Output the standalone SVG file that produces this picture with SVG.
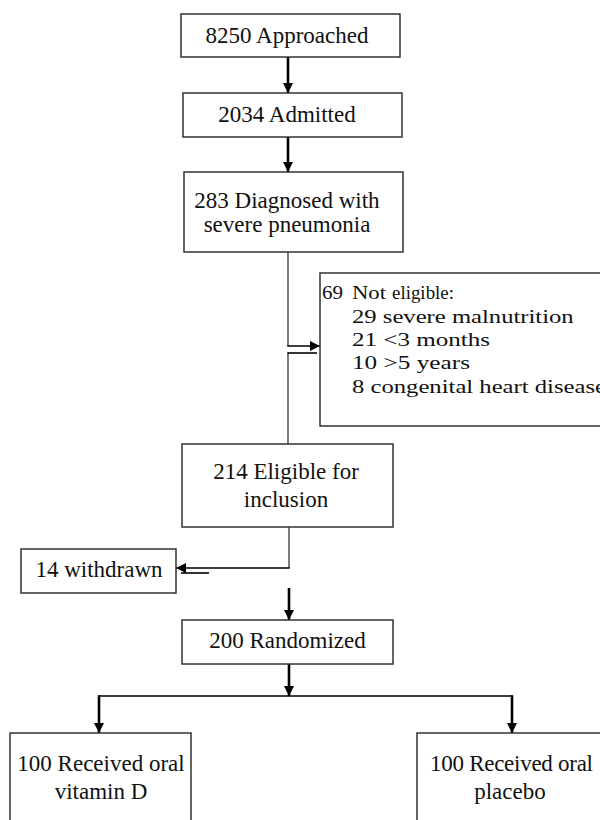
<svg xmlns="http://www.w3.org/2000/svg" width="600" height="820" viewBox="0 0 600 820">
<style>
.box{fill:#fff;stroke:#333;stroke-width:1.5}
.t{font-family:"Liberation Serif","Times New Roman",serif;font-size:23px;fill:#111;text-anchor:middle}
.s{font-family:"Liberation Serif","Times New Roman",serif;font-size:18px;fill:#111}
.thin{stroke:#444;stroke-width:1.4;fill:none}
.thk{stroke:#000;stroke-width:2.6;fill:none}
.h{stroke:#000;stroke-width:1.6;fill:none}
</style>
<defs>
<marker id="ah" markerUnits="userSpaceOnUse" markerWidth="11" markerHeight="11" refX="10" refY="5" orient="auto">
<path d="M0,0 L10,5 L0,10 z" fill="#000"/>
</marker>
</defs>
<g id="connectors">
<line class="thk" x1="288" y1="57" x2="288" y2="93" marker-end="url(#ah)"/>
<line class="thk" x1="288" y1="137" x2="288" y2="172" marker-end="url(#ah)"/>
<line class="thin" x1="288" y1="252" x2="288" y2="346"/>
<line class="thin" x1="288" y1="353" x2="288" y2="444"/>
<line class="h" x1="287.3" y1="346" x2="320" y2="346" marker-end="url(#ah)"/>
<line class="h" x1="287.3" y1="353" x2="317" y2="353"/>
<line class="thin" x1="289" y1="527" x2="289" y2="568"/>
<line class="h" x1="289.7" y1="568" x2="176" y2="568" marker-end="url(#ah)"/>
<line class="h" x1="181" y1="573" x2="209" y2="573"/>
<line class="thk" x1="289" y1="588" x2="289" y2="620" marker-end="url(#ah)"/>
<line class="thk" x1="289" y1="664" x2="289" y2="696" marker-end="url(#ah)"/>
<line class="h" x1="99" y1="696" x2="512" y2="696"/>
<line class="thk" x1="99" y1="695.2" x2="99" y2="733" marker-end="url(#ah)"/>
<line class="thk" x1="512" y1="695.2" x2="512" y2="733" marker-end="url(#ah)"/>
</g>
<g id="approached">
<rect class="box" x="181" y="14" width="219" height="43"/>
<text class="t" x="287" y="43">8250 Approached</text>
</g>
<g id="admitted">
<rect class="box" x="183" y="93" width="219" height="44"/>
<text class="t" x="287" y="122">2034 Admitted</text>
</g>
<g id="diagnosed">
<rect class="box" x="184" y="172" width="219" height="80"/>
<text class="t" x="287" y="208">283 Diagnosed with</text>
<text class="t" x="287" y="232">severe pneumonia</text>
</g>
<g id="not-eligible">
<rect class="box" x="320" y="273" width="300" height="153"/>
<text class="s" x="322" y="299" textLength="21" lengthAdjust="spacingAndGlyphs">69</text>
<text class="s" x="352" y="299" textLength="34" lengthAdjust="spacingAndGlyphs">Not</text>
<text class="s" x="392" y="299" textLength="62" lengthAdjust="spacingAndGlyphs">eligible:</text>
<text class="s" x="352" y="323" textLength="221.7" lengthAdjust="spacingAndGlyphs">29 severe malnutrition</text>
<text class="s" x="352" y="346" textLength="138" lengthAdjust="spacingAndGlyphs">21 &lt;3 months</text>
<text class="s" x="352" y="369" textLength="118" lengthAdjust="spacingAndGlyphs">10 &gt;5 years</text>
<text class="s" x="352" y="393" textLength="254" lengthAdjust="spacingAndGlyphs">8 congenital heart disease</text>
</g>
<g id="eligible">
<rect class="box" x="182" y="444" width="211" height="83"/>
<text class="t" x="286" y="479">214 Eligible for</text>
<text class="t" x="286" y="507">inclusion</text>
</g>
<g id="withdrawn">
<rect class="box" x="21" y="549" width="155" height="44"/>
<text class="t" x="99" y="577">14 withdrawn</text>
</g>
<g id="randomized">
<rect class="box" x="182" y="620" width="211" height="44"/>
<text class="t" x="287.5" y="648">200 Randomized</text>
</g>
<g id="vitamin-d">
<rect class="box" x="10" y="733" width="181" height="100"/>
<text class="t" x="101" y="771">100 Received oral</text>
<text class="t" x="101" y="799">vitamin D</text>
</g>
<g id="placebo">
<rect class="box" x="417" y="733" width="190" height="100"/>
<text class="t" x="511.5" y="771" textLength="163" lengthAdjust="spacing">100 Received oral</text>
<text class="t" x="510" y="799">placebo</text>
</g>
</svg>
